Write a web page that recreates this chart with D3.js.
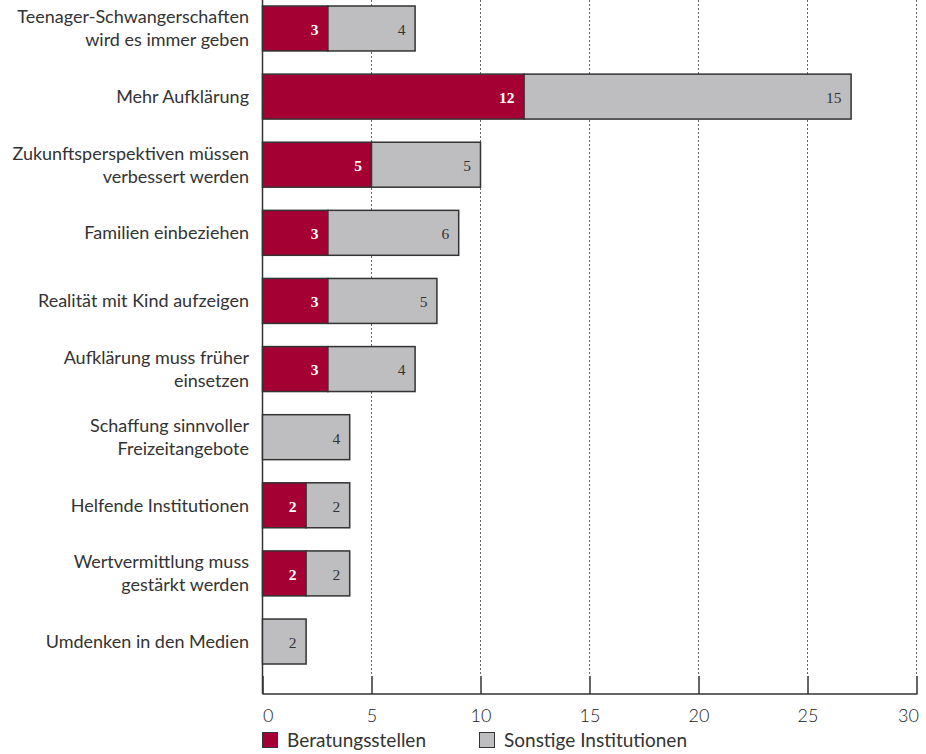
<!DOCTYPE html>
<html>
<head>
<meta charset="utf-8">
<script src="https://cdn.jsdelivr.net/npm/d3@7"></script>
<style>
  html, body { margin: 0; padding: 0; background: #fff; }
  svg { display: block; }
</style>
</head>
<body>
<svg id="chart" width="926" height="754"></svg>
<script>
// Categories (each entry holds the label lines)
const categories = [
  ["Teenager-Schwangerschaften", "wird es immer geben"],
  ["Mehr Aufklärung"],
  ["Zukunftsperspektiven müssen", "verbessert werden"],
  ["Familien einbeziehen"],
  ["Realität mit Kind aufzeigen"],
  ["Aufklärung muss früher", "einsetzen"],
  ["Schaffung sinnvoller", "Freizeitangebote"],
  ["Helfende Institutionen"],
  ["Wertvermittlung muss", "gestärkt werden"],
  ["Umdenken in den Medien"]
];
const beratungsstellen = [3, 12, 5, 3, 3, 3, 0, 2, 2, 0];
const sonstige = [4, 15, 5, 6, 5, 4, 4, 2, 2, 2];
const seriesNames = ["Beratungsstellen", "Sonstige Institutionen"];
const xTicks = [0, 5, 10, 15, 20, 25, 30];

const colors = ["#A50034", "#BEBEC0"];
const sansFont = "Lato, 'Open Sans', sans-serif";
const svg = d3.select("#chart");

const x = d3.scaleLinear().domain([0, 30]).range([262, 916]);
const y = d3.scaleBand().domain(d3.range(categories.length)).range([6, 664]).paddingInner(0.34).paddingOuter(0);
const axisY = 694;
const tickLen = 18;

// Dotted gridlines
svg.append("g").selectAll("line").data(xTicks.filter(d => d > 0)).join("line")
  .attr("x1", d => x(d) + 0.5).attr("x2", d => x(d) + 0.5)
  .attr("y1", 0).attr("y2", axisY - tickLen)
  .attr("stroke", "#666").attr("stroke-width", 1).attr("stroke-dasharray", "2,2");

// Bottom axis with short inward ticks
const xAxis = d3.axisBottom(x).tickValues(xTicks).tickSizeInner(-tickLen).tickSizeOuter(0);
const gx = svg.append("g").attr("transform", `translate(0.5,${axisY})`).call(xAxis);
gx.select(".domain").attr("stroke", "#333").attr("stroke-width", 1.5).attr("d", `M${x(0)},0H${x(30) + 1}`);
gx.selectAll(".tick line").attr("stroke", "#333").attr("stroke-width", 1.5);
gx.selectAll(".tick text")
  .attr("y", 28).attr("dy", null)
  .attr("text-anchor", d => d === 0 ? "start" : d === 30 ? "end" : "middle")
  .attr("x", d => d === 0 ? 0 : d === 30 ? 2 : 0)
  .attr("font-family", sansFont).attr("font-weight", 300)
  .attr("font-size", 18).attr("fill", "#222");

// Left axis line
svg.append("line").attr("x1", x(0) + 0.5).attr("x2", x(0) + 0.5).attr("y1", 0).attr("y2", axisY)
  .attr("stroke", "#333").attr("stroke-width", 1.5);

// Stacked segments
const rows = categories.map((c, i) => ({ i, a: beratungsstellen[i], b: sonstige[i] }));
const segs = [];
rows.forEach(r => {
  if (r.a > 0) segs.push({ i: r.i, s: 0, x0: 0, x1: r.a, v: r.a });
  if (r.b > 0) segs.push({ i: r.i, s: 1, x0: r.a, x1: r.a + r.b, v: r.b });
});

svg.append("g").selectAll("rect").data(segs).join("rect")
  .attr("x", d => x(d.x0) + 0.5)
  .attr("y", d => y(d.i))
  .attr("width", d => x(d.x1) - x(d.x0))
  .attr("height", y.bandwidth())
  .attr("fill", d => colors[d.s])
  .attr("stroke", "#333").attr("stroke-width", 1.5);

svg.append("g").selectAll("text").data(segs).join("text")
  .attr("x", d => x(d.x1) - 9)
  .attr("y", d => y(d.i) + y.bandwidth() / 2 + 1)
  .attr("dy", "0.35em")
  .attr("text-anchor", "end")
  .attr("font-family", "'Liberation Serif', 'DejaVu Serif', serif")
  .attr("font-size", 15.5)
  .attr("font-weight", d => d.s === 0 ? "bold" : "normal")
  .attr("fill", d => d.s === 0 ? "#fff" : "#333")
  .text(d => d.v);

// Category labels
const labels = svg.append("g").selectAll("text").data(categories).join("text")
  .attr("x", 250)
  .attr("text-anchor", "end")
  .attr("font-family", sansFont)
  .attr("font-size", 18)
  .attr("fill", "#333");
labels.each(function (lines, i) {
  const cy = y(i) + y.bandwidth() / 2;
  const lh = 23;
  const t = d3.select(this);
  lines.forEach((ln, k) => {
    t.append("tspan").attr("x", 249)
      .attr("y", cy + (k - (lines.length - 1) / 2) * lh)
      .attr("dy", "0.35em").text(ln);
  });
});

// Legend
const legend = svg.append("g");
const legendX = [262, 479];
seriesNames.forEach((n, i) => {
  legend.append("rect").attr("x", legendX[i] + 0.5).attr("y", 732.5).attr("width", 15).attr("height", 15)
    .attr("fill", colors[i]).attr("stroke", "#333").attr("stroke-width", 1);
  legend.append("text").attr("x", legendX[i] + 25).attr("y", 747)
    .attr("font-family", sansFont)
    .attr("font-size", 19).attr("fill", "#333").text(n);
});
</script>
</body>
</html>
